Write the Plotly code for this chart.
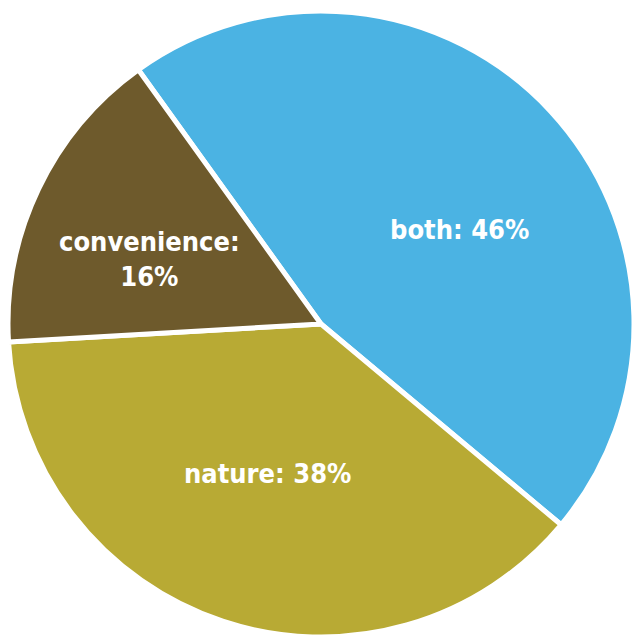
import plotly.graph_objects as go

labels = ["both", "nature", "convenience"]
values = [46, 38, 16]
colors = ["#4BB3E3", "#B8AA34", "#6E5A2C"]
text_labels = ["both: 46%", "nature: 38%", "convenience:<br>16%"]
# label anchor points (paper fractions) inside each slice
label_x = [459 / 634, 267 / 634, 149 / 634]
label_y = [1 - 229 / 638, 1 - 473 / 638, 1 - 259 / 638]

W, H = 634, 638

fig = go.Figure(
    go.Pie(
        labels=labels,
        values=values,
        textinfo="none",
        sort=False,
        direction="clockwise",
        rotation=-35.7,
        marker=dict(colors=colors, line=dict(color="white", width=5)),
        domain=dict(x=[8 / W, 1.0], y=[1 / H, 1 - 11 / H]),
        showlegend=False,
        hoverinfo="label+percent",
    )
)

label_font = dict(family="DejaVu Sans Condensed, Liberation Sans Narrow, sans-serif",
                  size=27, color="white", weight="bold")
for txt, x, y in zip(text_labels, label_x, label_y):
    fig.add_annotation(text=txt, x=x, y=y, xref="paper", yref="paper",
                       showarrow=False, font=label_font, align="center",
                       xanchor="center", yanchor="middle")

fig.update_layout(
    width=W,
    height=H,
    margin=dict(l=0, r=0, t=0, b=0),
    paper_bgcolor="white",
    plot_bgcolor="white",
)

fig.write_html("out.html")
